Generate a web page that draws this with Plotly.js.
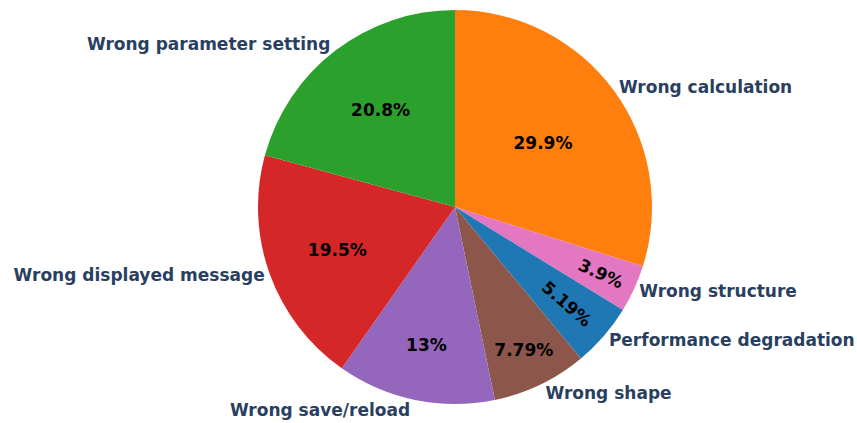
<!DOCTYPE html>
<html>
<head>
<meta charset="utf-8">
<script src="https://cdn.plot.ly/plotly-3.0.1.min.js"></script>
<style>html,body{margin:0;padding:0;background:#fff;}#chart{width:857px;height:423px;}</style>
</head>
<body>
<div id="chart"></div>
<script>
const labels = ["Wrong calculation", "Wrong structure", "Performance degradation", "Wrong shape", "Wrong save/reload", "Wrong displayed message", "Wrong parameter setting"];
const counts = [23, 3, 4, 6, 10, 15, 16];
const colors = ["#ff7f0e", "#e377c2", "#1f77b4", "#8c564b", "#9467bd", "#d62728", "#2ca02c"];

const domain = {x: [(455 - 197) / 857, (455 + 197) / 857], y: [1 - 404 / 423, 1 - 10 / 423]};
const fontFam = "DejaVu Sans";

const traces = [
  {
    type: "pie", labels: labels, values: counts, sort: false, direction: "clockwise",
    marker: {colors: colors, line: {width: 0}},
    textinfo: "percent", textposition: "inside", insidetextorientation: "auto",
    insidetextfont: {family: fontFam, size: 17, color: "#000", weight: "bold"},
    domain: domain, showlegend: false, hoverinfo: "skip"
  },
  {
    type: "pie", labels: labels, values: counts, sort: false, direction: "clockwise",
    marker: {colors: labels.map(() => "rgba(0,0,0,0)"), line: {width: 0}},
    textinfo: "label", textposition: "outside",
    outsidetextfont: {family: fontFam, size: 17, color: "#2a3f5f", weight: "bold"},
    domain: domain, showlegend: false, hoverinfo: "skip"
  }
];

const layout = {
  width: 857, height: 423,
  margin: {l: 0, r: 0, t: 0, b: 0},
  paper_bgcolor: "#fff",
  font: {family: fontFam, color: "#2a3f5f"},
  showlegend: false
};

Plotly.newPlot("chart", traces, layout, {displayModeBar: false, staticPlot: true});
</script>
</body>
</html>
